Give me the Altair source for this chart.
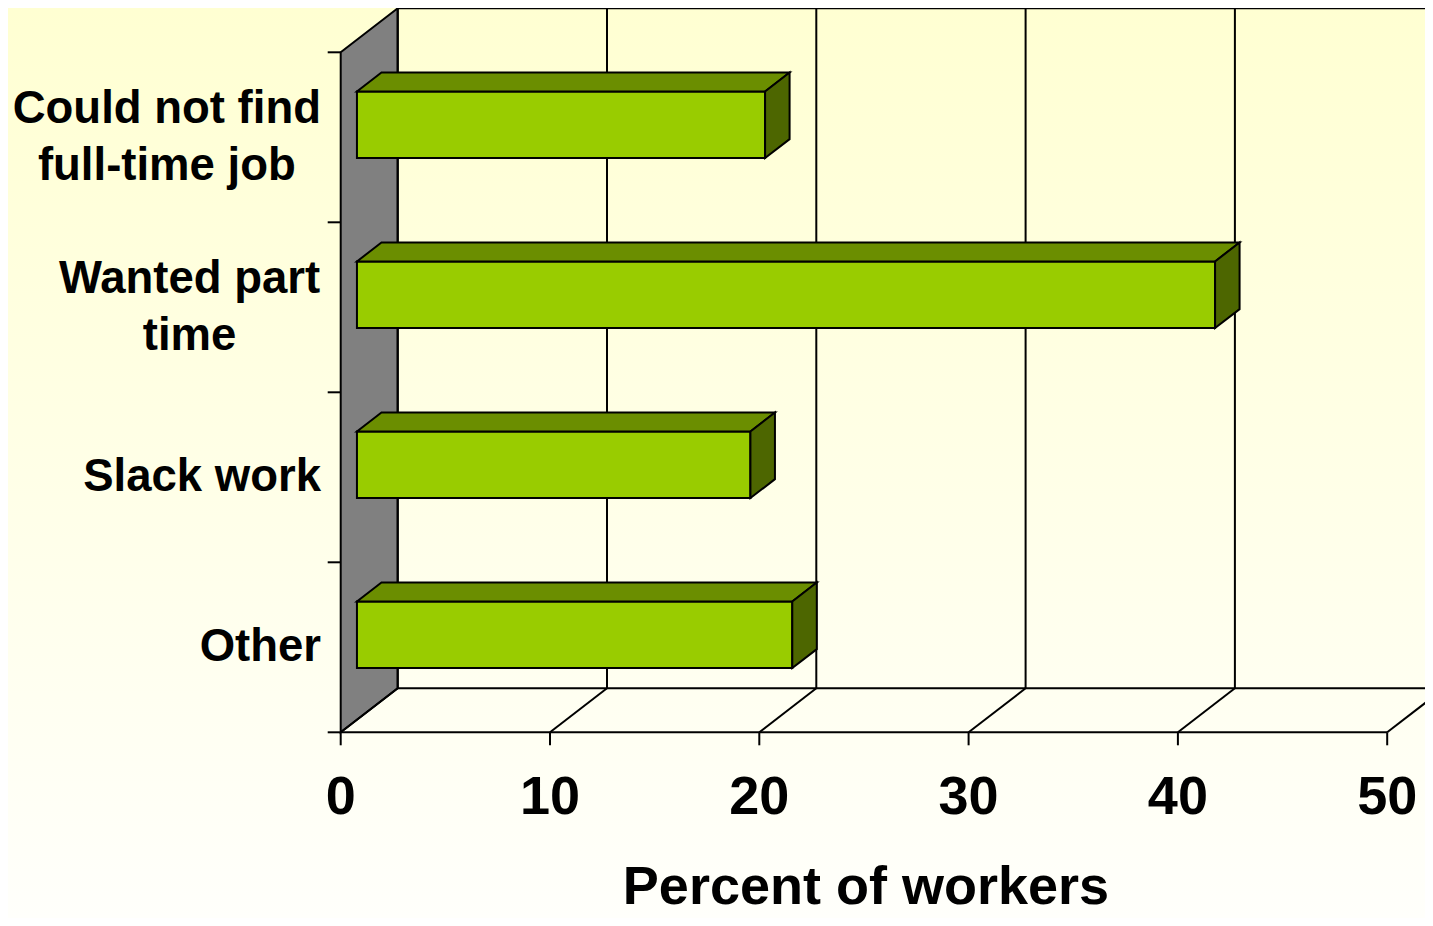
import altair as alt
import pandas as pd

# ---------------- data ----------------
categories = ["Could not find full-time job", "Wanted part time", "Slack work", "Other"]
label_lines = [["Could not find", "full-time job"], ["Wanted part", "time"], ["Slack work"], ["Other"]]
values = [19.5, 41.0, 18.8, 20.8]
x_ticks = [0, 10, 20, 30, 40, 50]
x_title = "Percent of workers"

# ---------------- layout constants (pixels) ----------------
W, H = 1417, 910
PX = 20.93            # px per percent unit
PY = 170.0            # px per category band
X0 = 332.7            # chart x of value 0 (front plane)
Y0 = 724.3            # chart y of the floor front edge
DEPTH_X, DEPTH_Y = 57.0, 44.0   # 3-D depth offset in px
F0, F1 = 0.285, 0.715           # bar depth fractions
BAR_H = 0.392                    # bar thickness (band units)
XMAX = 50

DXu, DYu = DEPTH_X / PX, DEPTH_Y / PY
xs = alt.Scale(domain=[-X0 / PX, (W - X0) / PX], nice=False, zero=False)
ys = alt.Scale(domain=[-(H - Y0) / PY, Y0 / PY], nice=False, zero=False)
n = len(categories)

FONT = "Liberation Sans"
BLACK = "#000000"


def X(f):
    return alt.X(f"{f}:Q", scale=xs, axis=None)


def Y(f):
    return alt.Y(f"{f}:Q", scale=ys, axis=None, stack=None)


# ---------------- background gradient ----------------
bg = alt.Chart(pd.DataFrame({"k": [0]})).mark_rect(
    color=alt.LinearGradient(
        gradient="linear",
        stops=[alt.GradientStop(color="#FFFFD2", offset=0),
               alt.GradientStop(color="#FFFFFB", offset=1)],
        x1=0, x2=0, y1=0, y2=1,
    )
).encode(x=alt.value(0), x2=alt.value(W), y=alt.value(0), y2=alt.value(H))

# ---------------- left wall ----------------
wall_df = pd.DataFrame({"x": [0, DXu], "y": [n, n + DYu], "y2": [0, DYu]})
wall = alt.Chart(wall_df).mark_area(
    fill="#808080", stroke=BLACK, strokeWidth=2, opacity=1, orient="vertical"
).encode(x=X("x"), y=Y("y"), y2="y2")

# ---------------- back wall outline ----------------
back_df = pd.DataFrame({"x": [DXu], "x2": [XMAX + DXu], "y": [DYu], "y2": [n + DYu]})
back = alt.Chart(back_df).mark_rect(
    fillOpacity=0, stroke=BLACK, strokeWidth=2, clip=True
).encode(x=X("x"), x2="x2", y=Y("y"), y2="y2")

# ---------------- gridlines on back wall ----------------
grid_df = pd.DataFrame({"x": [t + DXu for t in x_ticks if 0 < t < XMAX]})
grid_df["y"] = DYu
grid_df["y2"] = n + DYu
grid = alt.Chart(grid_df).mark_rule(color=BLACK, strokeWidth=2).encode(
    x=X("x"), y=Y("y"), y2="y2")

# ---------------- floor lines ----------------
floor_rows = [{"x": 0, "x2": XMAX, "y": 0, "y2": 0}]
for t in x_ticks:
    floor_rows.append({"x": t, "x2": t + DXu, "y": 0, "y2": DYu})
# x ticks below the floor
for t in x_ticks:
    floor_rows.append({"x": t, "x2": t, "y": 0, "y2": -13 / PY})
# y ticks left of the wall
for k in range(n + 1):
    floor_rows.append({"x": -13 / PX, "x2": 0, "y": k, "y2": k})
floor = alt.Chart(pd.DataFrame(floor_rows)).mark_rule(
    color=BLACK, strokeWidth=2, clip=True
).encode(x=X("x"), x2="x2", y=Y("y"), y2="y2")

# ---------------- bars ----------------
fx, fy = F0 * DXu, F0 * DYu
ddx, ddy = (F1 - F0) * DXu, (F1 - F0) * DYu
front_rows, top_rows, side_rows = [], [], []
for i, (cat, v) in enumerate(zip(categories, values)):
    center = (n - 1 - i) + 0.5 + fy
    ub, ut = center - BAR_H / 2, center + BAR_H / 2
    front_rows.append({"cat": cat, "x": fx, "x2": v + fx, "y": ub, "y2": ut})
    top_rows.append({"cat": cat, "y": ut, "x": fx, "x2": v + fx})
    top_rows.append({"cat": cat, "y": ut + ddy, "x": fx + ddx, "x2": v + fx + ddx})
    side_rows.append({"cat": cat, "x": v + fx, "y": ut, "y2": ub})
    side_rows.append({"cat": cat, "x": v + fx + ddx, "y": ut + ddy, "y2": ub + ddy})

bar_front = alt.Chart(pd.DataFrame(front_rows)).mark_rect(
    fill="#99CC00", stroke=BLACK, strokeWidth=2
).encode(x=X("x"), x2="x2", y=Y("y"), y2="y2")

bar_top = alt.Chart(pd.DataFrame(top_rows)).mark_area(
    fill="#6B8E00", stroke=BLACK, strokeWidth=2, opacity=1, orient="horizontal"
).encode(y=Y("y"), x=alt.X("x:Q", scale=xs, axis=None, stack=None), x2="x2",
         detail="cat:N")

bar_side = alt.Chart(pd.DataFrame(side_rows)).mark_area(
    fill="#4D6600", stroke=BLACK, strokeWidth=2, opacity=1, orient="vertical"
).encode(x=X("x"), y=Y("y"), y2="y2", detail="cat:N")

# ---------------- text ----------------
ARIAL_BOLD = {" ": 278, "-": 333, "a": 556, "b": 611, "c": 556, "d": 611, "e": 556,
              "f": 333, "h": 611, "i": 278, "j": 278, "k": 556, "l": 278, "m": 889,
              "n": 611, "o": 611, "p": 611, "r": 389, "s": 556, "t": 333, "u": 611,
              "w": 778, "C": 722, "W": 944, "S": 667, "O": 778}
CAT_FS = 45.5
LINE_H = 57
LABEL_RIGHT_PX = 321 - 8


def text_width(s, fs):
    return sum(ARIAL_BOLD.get(ch, 600) for ch in s) / 1000 * fs


lab_rows = []
for i, lines in enumerate(label_lines):
    wmax = max(text_width(s, CAT_FS) for s in lines)
    cx_px = LABEL_RIGHT_PX - wmax / 2
    lift = (len(lines) - 1) * LINE_H / 2 / PY
    lab_rows.append({"t": "\n".join(lines), "x": (cx_px - X0) / PX,
                     "y": (n - 1 - i) + 0.5 + lift})
cat_labels = alt.Chart(pd.DataFrame(lab_rows)).mark_text(
    font=FONT, fontSize=CAT_FS, fontWeight="bold", align="center", baseline="middle",
    lineBreak="\n", lineHeight=LINE_H, color=BLACK
).encode(x=X("x"), y=Y("y"), text="t:N")

tick_df = pd.DataFrame({"x": x_ticks, "t": [str(t) for t in x_ticks]})
tick_df["y"] = -(814 - 8 - Y0) / PY
tick_labels = alt.Chart(tick_df).mark_text(
    font=FONT, fontSize=54, fontWeight="bold", align="center", baseline="alphabetic",
    color=BLACK
).encode(x=X("x"), y=Y("y"), text="t:N")

title_df = pd.DataFrame({"x": [XMAX / 2 + 2 / PX], "y": [-(904 - 8 - Y0) / PY], "t": [x_title]})
title = alt.Chart(title_df).mark_text(
    font=FONT, fontSize=54, fontWeight="bold", align="center", baseline="alphabetic",
    color=BLACK
).encode(x=X("x"), y=Y("y"), text="t:N")

chart = alt.layer(
    bg, wall, back, grid, floor, bar_front, bar_top, bar_side,
    cat_labels, tick_labels, title
).properties(
    width=W, height=H, padding=0, autosize=alt.AutoSizeParams(type="none")
).configure_view(stroke=None)

chart.save("out.html", embed_options={"renderer": "svg", "actions": False})
